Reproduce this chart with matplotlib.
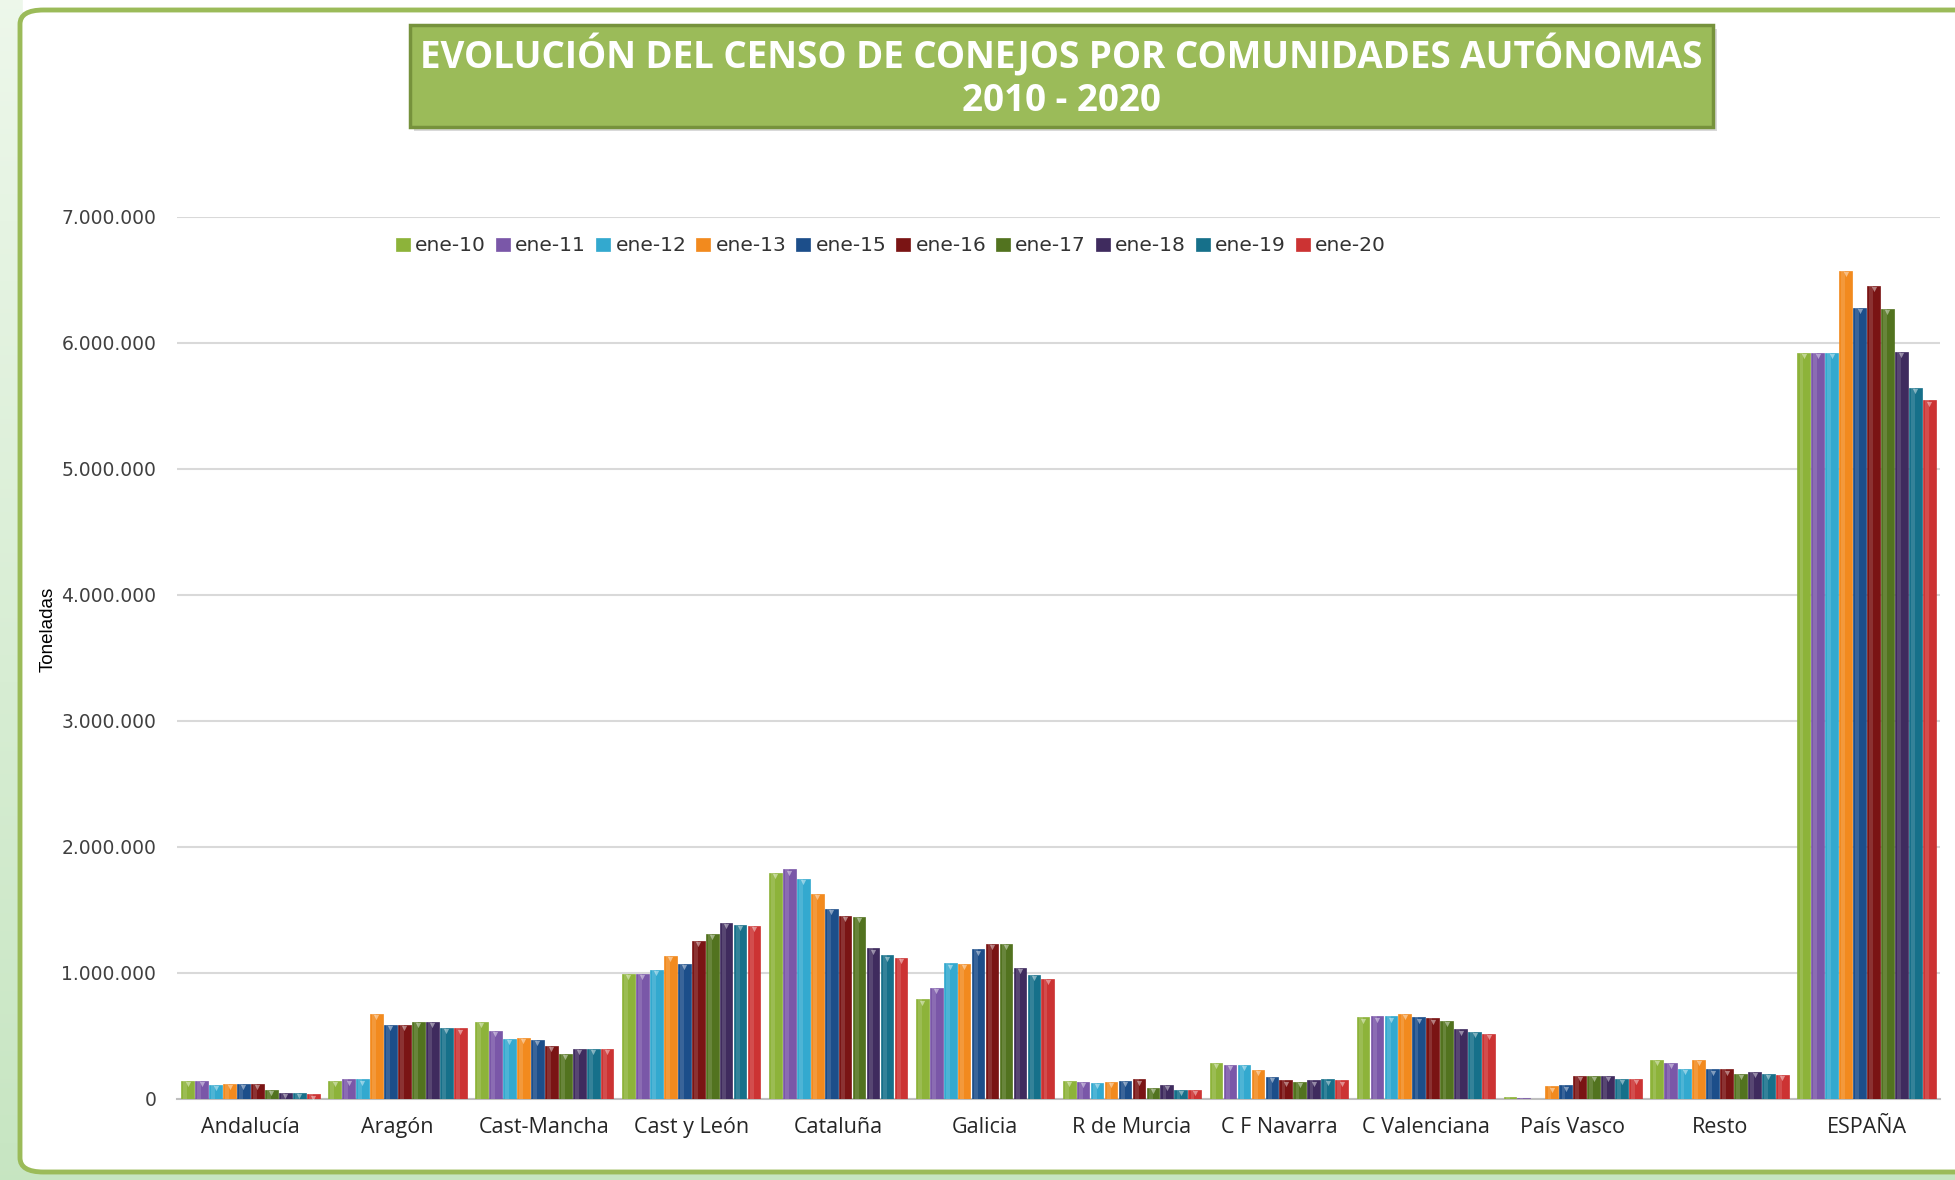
import numpy as np
import matplotlib.pyplot as plt
from matplotlib.patches import Rectangle, FancyBboxPatch
from matplotlib.ticker import FuncFormatter

# Datos (cabezas)
comunidades = ["Andalucía", "Aragón", "Cast-Mancha", "Cast y León", "Cataluña",
               "Galicia", "R de Murcia", "C F Navarra", "C Valenciana",
               "País Vasco", "Resto", "ESPAÑA"]
series = ["ene-10", "ene-11", "ene-12", "ene-13", "ene-15",
          "ene-16", "ene-17", "ene-18", "ene-19", "ene-20"]

andalucia = [140000, 140000, 105000, 113000, 113000, 113000, 69000, 42000, 42000, 32000]
aragon = [140000, 151000, 151000, 672000, 582000, 582000, 608000, 608000, 563000, 556000]
cast_mancha = [608000, 537000, 471000, 479000, 466000, 418000, 357000, 391000, 391000, 391000]
cast_leon = [990000, 990000, 1018000, 1132000, 1069000, 1254000, 1307000, 1396000, 1376000, 1372000]
cataluna = [1792000, 1819000, 1747000, 1623000, 1504000, 1451000, 1443000, 1192000, 1136000, 1113000]
galicia = [787000, 880000, 1073000, 1067000, 1184000, 1226000, 1226000, 1038000, 978000, 948000]
murcia = [141000, 133000, 125000, 133000, 141000, 152000, 81000, 105000, 70000, 70000]
navarra = [284000, 268000, 268000, 226000, 168000, 144000, 134000, 144000, 152000, 144000]
valenciana = [644000, 652000, 652000, 673000, 644000, 636000, 617000, 548000, 529000, 516000]
pais_vasco = [8000, 6000, 0, 96000, 104000, 176000, 176000, 176000, 157000, 157000]
resto = [309000, 282000, 237000, 303000, 231000, 231000, 192000, 210000, 192000, 184000]
espana = [5918000, 5918000, 5918000, 6570000, 6280000, 6456000, 6270000, 5930000, 5645000, 5544000]

colores = ["#8DB33A", "#7A57A8", "#33A9CF", "#F28A1E", "#1C4E8A",
           "#7A1414", "#52731F", "#3F2B5E", "#16708A", "#CC3333"]

valores = np.array([andalucia, aragon, cast_mancha, cast_leon, cataluna, galicia,
                    murcia, navarra, valenciana, pais_vasco, resto, espana])

W, H = 1955, 1180
fig = plt.figure(figsize=(W / 100, H / 100), dpi=100, facecolor="white")

# fondo: franja verde clara a la izquierda y abajo
bg = fig.add_axes([0, 0, 1, 1], zorder=-10)
grad = np.linspace(0, 1, 256).reshape(-1, 1)
c_top = np.array([0.93, 0.97, 0.92])
c_bot = np.array([0.78, 0.90, 0.76])
img = c_top * (1 - grad[..., None]) + c_bot * grad[..., None]
img = np.repeat(img, 2, axis=1)
bg.imshow(img, aspect="auto", extent=[0, 1, 0, 1], origin="upper")
bg.set_xlim(0, 1)
bg.set_ylim(0, 1)
bg.axis("off")
bg.add_patch(Rectangle((0.012, 0.99), 1, 0.02, color="white", zorder=1))

# marco blanco redondeado con borde verde
panel = FancyBboxPatch((20 / W, 8 / H), 1.05, 1 - 18 / H,
                       boxstyle="round,pad=0,rounding_size=0.012",
                       transform=fig.transFigure, facecolor="white",
                       edgecolor="#9BBB59", linewidth=3.5, zorder=-5)
fig.patches.append(panel)

# caja del título
fig.patches.append(Rectangle((410 / W + 0.002, 1 - 131 / H), (1713 - 410) / W, 102 / H,
                             transform=fig.transFigure, facecolor="#d9d9d9",
                             edgecolor="none", zorder=1))
fig.patches.append(Rectangle((410 / W, 1 - 127 / H), (1713 - 410) / W, 102 / H,
                             transform=fig.transFigure, facecolor="#9BBB59",
                             edgecolor="#76923C", linewidth=2.5, zorder=2))
fig.text(1061 / W, 1 - 56 / H, "EVOLUCIÓN DEL CENSO DE CONEJOS POR COMUNIDADES AUTÓNOMAS",
         ha="center", va="center", color="white", fontsize=26.5, fontweight="bold",
         family="Open Sans", zorder=3)
fig.text(1061 / W, 1 - 101 / H, "2010 - 2020", ha="center", va="center",
         color="white", fontsize=26.5, fontweight="bold", family="Open Sans", zorder=3)

ax = fig.add_axes([177 / W, 1 - 1098.5 / H, (1940 - 177) / W, (1098.5 - 217) / H])
ax.set_facecolor("none")

x = np.arange(len(comunidades))
paso = 0.095
ancho = 0.087
for j, (serie, color) in enumerate(zip(series, colores)):
    pos = x + (j - 4.5) * paso
    ax.bar(pos, valores[:, j], width=ancho, color=color, label=serie, zorder=3,
           edgecolor=color, linewidth=0.5)
    # brillo lateral
    ax.bar(pos - ancho * 0.18, valores[:, j], width=ancho * 0.3, color="white",
           alpha=0.13, zorder=4, linewidth=0)
    # pequeño remate claro en la parte superior
    mask = valores[:, j] > 30000
    ax.scatter(pos[mask], valores[mask, j] - 25000, marker="v", s=14,
               color="white", alpha=0.45, zorder=5, linewidths=0)

ax.set_xlim(-0.5, 11.5)
ax.set_ylim(0, 7000000)
ax.set_yticks(np.arange(0, 7000001, 1000000))
ax.yaxis.set_major_formatter(FuncFormatter(lambda v, p: f"{int(v):,}".replace(",", ".")))
ax.grid(axis="y", color="#d9d9d9", linewidth=1.5, zorder=0)
for s in ["top", "right", "left"]:
    ax.spines[s].set_visible(False)
ax.spines["bottom"].set_color("#bfbfbf")
ax.spines["bottom"].set_linewidth(1.5)
ax.tick_params(axis="y", length=0, pad=15, labelsize=13.5, labelcolor="#404040")
ax.tick_params(axis="x", length=0, pad=13)
ax.set_xticks(x)
ax.set_xticklabels(comunidades, fontsize=15.5, family="Open Sans", color="#262626")

ax.set_ylabel("Toneladas", fontsize=13.5, family="Liberation Sans", color="black")
ax.yaxis.set_label_coords((57 - 177) / 1763, (1098.5 - 629) / 881.5)

leg = ax.legend(ncol=10, loc="center left", bbox_to_anchor=(378 / W, 1 - 246 / H),
                bbox_transform=fig.transFigure, frameon=False,
                handlelength=0.7, handleheight=0.6, handletextpad=0.25,
                columnspacing=0.5, prop={"family": "DejaVu Sans", "size": 14.5})
for t in leg.get_texts():
    t.set_color("#333333")

fig.savefig("out.png", dpi=100, facecolor=fig.get_facecolor())
